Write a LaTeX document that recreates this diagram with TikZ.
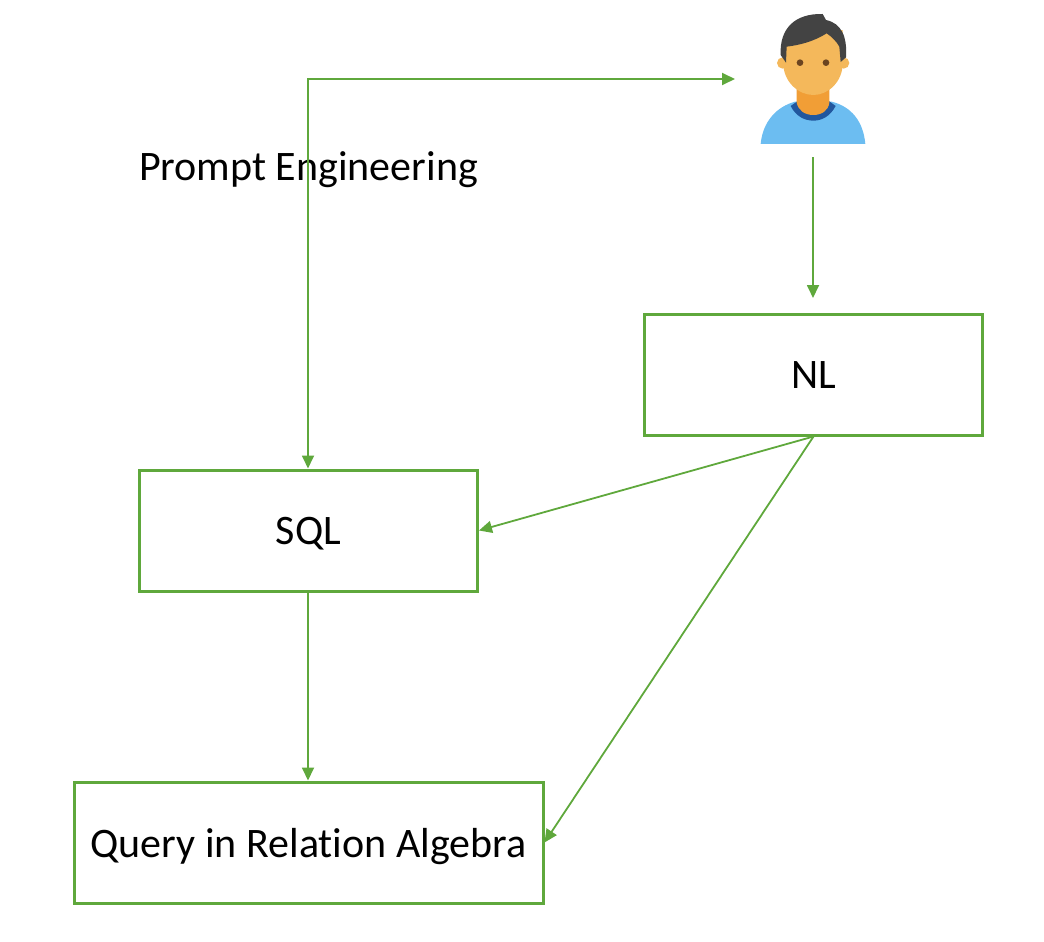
\documentclass[tikz,border=0pt]{standalone}
\usepackage{fontspec}
\setmainfont[Ligatures=NoCommon]{Carlito}
\usetikzlibrary{arrows.meta}
\definecolor{grn}{HTML}{5FA83C}
\definecolor{skin}{HTML}{F4B85B}
\definecolor{neck}{HTML}{F19E36}
\definecolor{hair}{HTML}{434343}
\definecolor{shirt}{HTML}{6CBDF1}
\definecolor{collar}{HTML}{21579E}
\definecolor{pupil}{HTML}{6B4420}
\tikzset{
  boxnode/.style={draw=grn,line width=3pt,fill=none,inner sep=0pt,text depth=0pt,font=\fontsize{42}{48}\selectfont,text=black},
  conn/.style={draw=grn,line width=1.8pt,-{Triangle[length=13pt,width=12pt,fill=grn]}},
  lbl/.style={inner sep=0pt,font=\fontsize{42}{48}\selectfont,text=black}
}
\begin{document}
\begin{tikzpicture}[x=1pt,y=-1pt]
\useasboundingbox (0,0) rectangle (1044,942);
% person
\begin{scope}[shift={(720,0)},x=0.3333pt,y=-0.3333pt]
  \fill[shirt] (122,432) .. controls (128,365) and (170,320) .. (225,305) -- (335,305) .. controls (395,320) and (430,365) .. (436,432) -- cycle;
  \fill[collar] (212,318) -- (232,304) -- (328,304) -- (347,318) .. controls (330,350) and (305,362) .. (280,362) .. controls (255,362) and (228,350) .. (212,318) -- cycle;
  \fill[neck] (230,260) -- (328,260) -- (328,308) .. controls (325,332) and (305,345) .. (280,345) .. controls (255,345) and (235,332) .. (230,308) -- cycle;
  \fill[skin] (188,189) circle[radius=17];
  \fill[skin] (371,189) circle[radius=17];
  \fill[skin] (190,120) -- (368,90) -- (368,190) .. controls (368,245) and (325,285) .. (280,285) .. controls (235,285) and (190,245) .. (190,190) -- cycle;
  \fill[hair] (198,188) -- (182,165) .. controls (178,85) and (225,40) .. (308,42) -- (318,60) .. controls (365,70) and (382,110) .. (378,172) -- (362,186) -- (358,140) .. controls (350,125) and (335,110) .. (320,100) .. controls (280,125) and (240,135) .. (200,140) -- cycle;
  \fill[pupil] (240,188) circle[radius=10];
  \fill[pupil] (318,188) circle[radius=10];
\end{scope}
% boxes
\node[boxnode,minimum width=338pt,minimum height=121pt] (nl) at (813.5,374.5) {\raisebox{-1pt}{NL}};
\node[boxnode,minimum width=338pt,minimum height=121pt] (sql) at (308.5,530.5) {\raisebox{-1pt}{SQL}};
\node[boxnode,minimum width=469pt,minimum height=121pt] (qra) at (308.5,842.5) {\raisebox{-1pt}{Query in Relation Algebra}};
\node[lbl] (pe) at (308.5,170) {Prompt Engineering};
% free ends
\coordinate (userleft) at (735,79);
\coordinate (corner) at (308,79);
\coordinate (userbottom) at (813,157);
\coordinate (nltop) at (813,298);
% connectors
\draw[conn,{Triangle[length=13pt,width=12pt,fill=grn]}-{Triangle[length=13pt,width=12pt,fill=grn]}] (sql.north -| corner) -- (corner) -- (userleft);
\draw[conn] (userbottom) -- (nltop);
\draw[conn] (nl.south) -- (sql.east);
\draw[conn] (nl.south) -- (qra.east);
\draw[conn] (sql.south -| corner) -- (qra.north -| corner);
\end{tikzpicture}
\end{document}
